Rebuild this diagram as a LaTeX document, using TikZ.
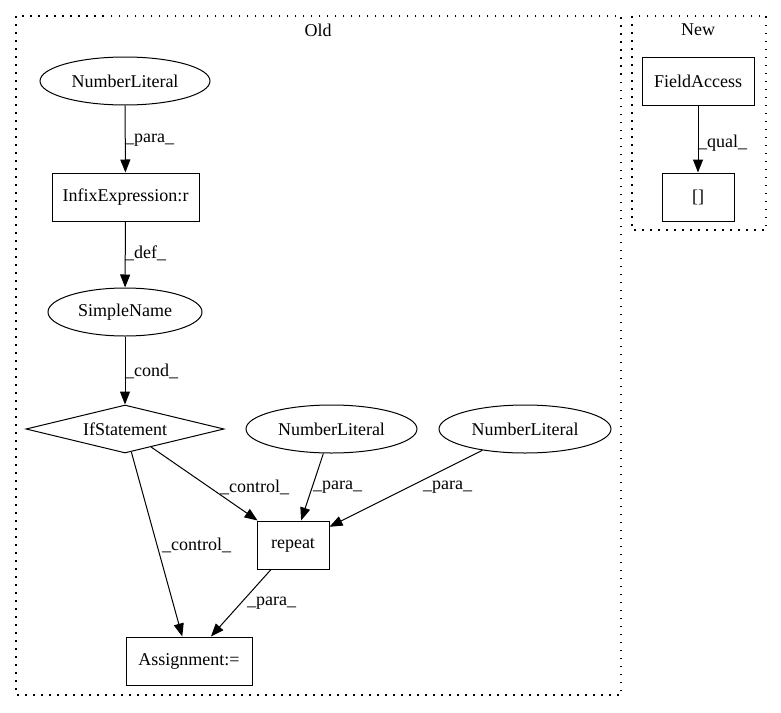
\documentclass[tikz,border=0pt]{standalone}
\usepackage{fontspec}
\setmainfont{Liberation Serif}
\usetikzlibrary{shapes.geometric,arrows.meta}
\begin{document}
\begin{tikzpicture}[x=1pt,y=-1pt,
  every node/.style={font=\fontsize{18pt}{20pt}\selectfont, inner sep=0pt},
  box/.style={draw, line width=1pt, rectangle, minimum height=48pt},
  ell/.style={draw, line width=1pt, ellipse, minimum height=48pt},
  cond/.style={draw, line width=1pt, diamond, aspect=4, minimum width=198pt, minimum height=48pt},
  edge/.style={line width=1pt, -{Triangle[length=13pt,width=10pt]}},
  lbl/.style={anchor=west},
  cluster/.style={line width=1.3pt, dash pattern=on 1.5pt off 6.5pt}]
\useasboundingbox (0,0) rectangle (781,712);
\draw[cluster] (16,16) rectangle (621,695);
\draw[cluster] (632,16) rectangle (766,230);
\node (oldt) at (318,30) {Old};
\node (newt) at (698,30) {New};

\node[ell, minimum width=170pt] (nl1) at (125,81) {NumberLiteral};
\node[box, minimum width=147pt] (infix) at (125.5,197) {InfixExpression:r};
\node[ell, minimum width=154pt] (sn) at (125,312) {SimpleName};
\node[cond] (ifs) at (125,429) {IfStatement};
\node[ell, minimum width=171pt] (nl2) at (331.5,429) {NumberLiteral};
\node[ell, minimum width=172pt] (nl3) at (525,429) {NumberLiteral};
\node[box, minimum width=72pt] (rep) at (293,545) {repeat};
\node[box, minimum width=126pt] (asg) at (189,661) {Assignment:=};
\node[box, minimum width=112pt] (fa) at (698,81) {FieldAccess};
\node[box, minimum width=72pt] (br) at (698,197) {[]};

\draw[edge] (nl1) -- (infix);
\draw[edge] (infix) -- (sn);
\draw[edge] (sn) -- (ifs);
\draw[edge] (ifs) -- (rep);
\draw[edge] (ifs) -- (asg);
\draw[edge] (nl2) -- (rep);
\draw[edge] (nl3) -- (rep);
\draw[edge] (rep) -- (asg);
\draw[edge] (fa) -- (br);

\node[lbl] (l1) at (125,140) {\_para\_};
\node[lbl] (l2) at (125,253) {\_def\_};
\node[lbl] (l3) at (125,371) {\_cond\_};
\node[lbl] (l4) at (220,487) {\_control\_};
\node[lbl] (l5) at (162,545) {\_control\_};
\node[lbl] (l6) at (313,487) {\_para\_};
\node[lbl] (l7) at (423,487) {\_para\_};
\node[lbl] (l8) at (247,603) {\_para\_};
\node[lbl] (l9) at (698,143) {\_qual\_};
\end{tikzpicture}
\end{document}
